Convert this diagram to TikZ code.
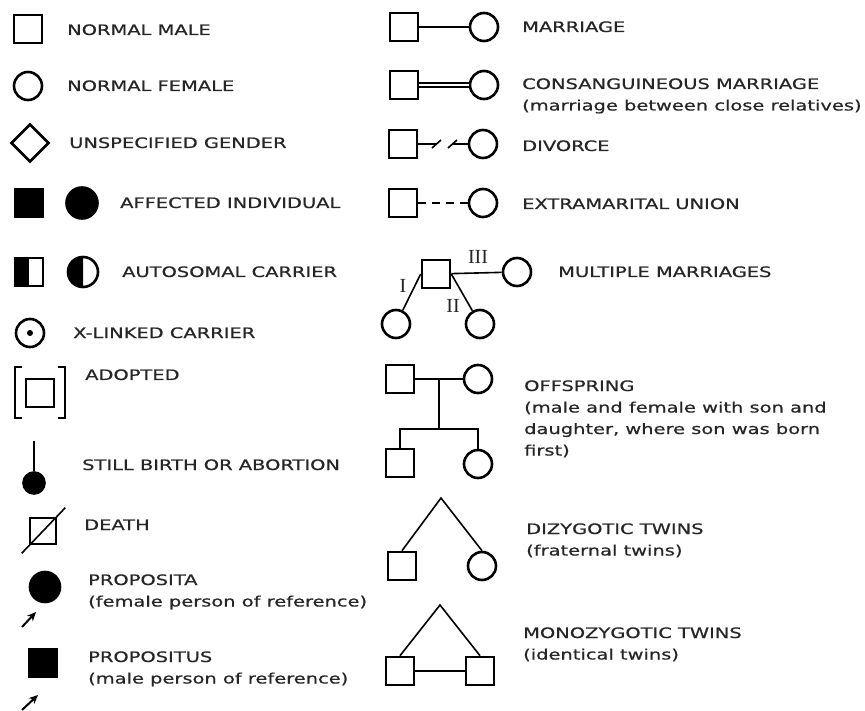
\documentclass[tikz,border=0pt]{standalone}
\usepackage{fontspec}
\setmainfont{DejaVu Sans}[FakeStretch=1.35,FakeBold=0.6]
\newfontfamily\numfont{Liberation Serif}
\usetikzlibrary{shapes.geometric,arrows.meta}

\begin{document}
\begin{tikzpicture}[x=1pt,y=-1pt,
    indiv/.style={draw,line width=2.6pt,inner sep=0pt,minimum size=28pt},
    male/.style={indiv,rectangle},
    female/.style={indiv,circle},
    link/.style={line width=1.6pt},
    legend/.style={anchor=base west,align=left,inner sep=0pt,text=black!85,
      font=\fontsize{14.4}{21.5}\selectfont},
    gen/.style={inner sep=0pt,text=black!85,font=\numfont\fontsize{20}{20}\selectfont},
    pointer/.style={line width=2pt,-{Stealth[length=9pt,width=8pt]}}]
  \useasboundingbox[fill=white] (0,0) rectangle (865,711);

  % 左の列
  \node[male] (nm) at (28,29) {}; %男性
  \node[legend] (tnm) at (67,35) {NORMAL MALE};
  \node[female] (nf) at (28,86) {}; %女性
  \node[legend] (tnf) at (67,91) {NORMAL FEMALE};
  \node[indiv,diamond,minimum size=38pt] (us) at (30,143) {}; %性別不明
  \node[legend] (tus) at (69,148) {UNSPECIFIED GENDER};
  \node[male,fill] (af1) at (29,203) {};
  \node[female,fill,minimum size=31pt] (af2) at (82,203) {};
  \node[legend] (taf) at (120,208) {AFFECTED INDIVIDUAL};
  \node[male] (ac1) at (29,272) {};
  \fill (ac1.north west) rectangle (ac1.south);
  \node[female,minimum size=30pt] (ac2) at (83,272) {};
  \begin{scope}
    \clip (ac2.west |- ac2.north) rectangle (ac2.south);
    \fill (ac2.center) circle[radius=16pt];
  \end{scope}
  \node[legend] (tac) at (122,277) {AUTOSOMAL CARRIER};
  \node[female] (xl) at (30,333) {}; %X連鎖保因者
  \fill (xl.center) circle[radius=3pt];
  \node[legend] (txl) at (73,338) {X-LINKED CARRIER};
  \node[male] (ad) at (40,393) {}; %養子
  \draw[link] (22,367) -| (15,418) -- (22,418);
  \draw[link] (58,367) -| (65,418) -- (58,418);
  \node[legend] (tad) at (85,380) {ADOPTED};
  \coordinate (sbtop) at (34,441); %死産
  \node[female,fill,minimum size=21pt] (sb) at (34,483) {};
  \draw[line width=2.2pt] (sbtop) -- (sb);
  \node[legend] (tsb) at (82,470) {STILL BIRTH OR ABORTION};
  \node[male,minimum size=26pt] (dth) at (43,531) {}; %死亡
  \draw[link] ([shift={(-7,8)}]dth.south west) -- ([shift={(8,-9)}]dth.north east);
  \node[legend] (tdth) at (84,530) {DEATH};
  \node[female,fill,minimum size=30pt] (pa) at (45,587) {}; %発端者
  \draw[pointer] ([shift={(-23,40)}]pa.center) -- ++(14,-15);
  \node[legend] (tpa) at (88,606.5) {PROPOSITA\\(female person of reference)};
  \node[male,fill] (ps) at (43,663) {};
  \draw[pointer] ([shift={(-21,47)}]ps.center) -- ++(16,-15);
  \node[legend] (tps) at (88,683.5) {PROPOSITUS\\(male person of reference)};

  % 右の列
  \node[male] (mr1) at (404,27) {}; %婚姻
  \node[female] (mr2) at (484,27) {};
  \draw[link] (mr1) -- (mr2);
  \node[legend] (tmr) at (522,32) {MARRIAGE};
  \node[male] (cs1) at (404,85) {}; %近親婚
  \node[female] (cs2) at (484,85) {};
  \draw[link,line width=1.3pt,double,double distance=2.6pt] (cs1) -- (cs2);
  \node[legend] (tcs) at (522,110.5) {CONSANGUINEOUS MARRIAGE\\(marriage between close relatives)};
  \node[male] (dv1) at (403,144) {}; %離婚
  \node[female] (dv2) at (483,144) {};
  \coordinate (dva) at (437,144);
  \coordinate (dvb) at (452,144);
  \draw[link] (dv1) -- (dva);
  \draw[link] (dvb) -- (dv2);
  \draw[link] ([shift={(-5,4)}]dva) -- ++(9,-8);
  \draw[link] ([shift={(-4,4)}]dvb) -- ++(9,-8);
  \node[legend] (tdv) at (522,151) {DIVORCE};
  \node[male] (em1) at (403,203) {}; %内縁
  \node[female] (em2) at (483,203) {};
  \draw[link,dash pattern=on 8pt off 6pt] (em1) -- (em2);
  \node[legend] (tem) at (522,209) {EXTRAMARITAL UNION};
  \node[male] (mm) at (436,274) {}; %複数婚
  \node[female] (w1) at (396,324) {};
  \node[female] (w2) at (480,324) {};
  \node[female] (w3) at (517,272) {};
  \draw[link] (mm.west) -- (w1);
  \draw[link] (mm.east) -- (w2);
  \draw[link] (mm) -- (w3);
  \node[gen] (g1) at (403,286) {I};
  \node[gen] (g2) at (453,306) {II};
  \node[gen] (g3) at (478,257) {III};
  \node[legend] (tmm) at (558,277) {MULTIPLE MARRIAGES};
  \node[male] (op1) at (400,379) {}; %子孫
  \node[female] (op2) at (478,379) {};
  \draw[link] (op1) -- (op2) coordinate[pos=0.5] (opm);
  \node[male] (oc1) at (400,463) {};
  \node[female] (oc2) at (478,464) {};
  \coordinate (ops) at (opm |- 0,429);
  \draw[link] (opm) -- (ops);
  \draw[link] (oc1.north) |- (ops) -| (oc2.north);
  \node[legend] (top) at (524,455.5) {OFFSPRING\\(male and female with son and\\daughter, where son was born\\first)};
  \coordinate (dzt) at (441,498); %二卵性双生児
  \node[male] (dz1) at (402,566) {};
  \node[female] (dz2) at (482,566) {};
  \draw[link] (dz1.north) -- (dzt) -- (dz2.north);
  \node[legend] (tdz) at (526,555.5) {DIZYGOTIC TWINS\\(fraternal twins)};
  \coordinate (mzt) at (440,605); %一卵性双生児
  \node[male] (mz1) at (400,671) {};
  \node[male] (mz2) at (480,671) {};
  \draw[link] (mz1.north) -- (mzt) -- (mz2.north);
  \draw[link] (mz1) -- (mz2);
  \node[legend] (tmz) at (523,659.5) {MONOZYGOTIC TWINS\\(identical twins)};
\end{tikzpicture}
\end{document}
